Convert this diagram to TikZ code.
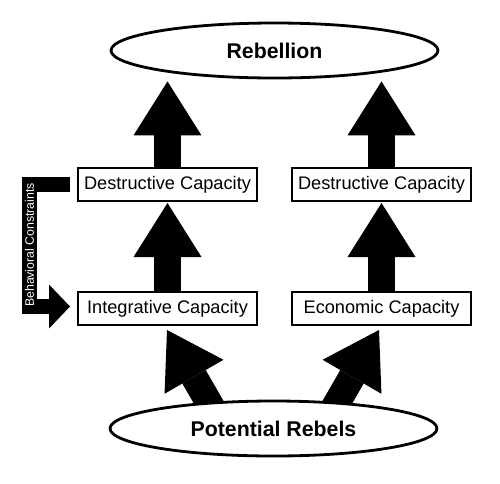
\documentclass[tikz,border=0pt]{standalone}
\usepackage{fontspec}
\setmainfont{Liberation Sans}
\usetikzlibrary{arrows.meta,calc,backgrounds,shapes.geometric}
\tikzset{
  capbox/.style={draw, line width=2pt, fill=white, minimum width=179pt, minimum height=33pt, inner sep=0pt, font=\fontsize{18.2}{22}\selectfont},
  ovalnode/.style={draw, ellipse, line width=2.8pt, fill=white, minimum width=327pt, minimum height=55pt, inner sep=0pt, font=\fontsize{21.3}{26}\selectfont\bfseries},
  bigarrow/.style={line width=27pt, -{Triangle[width=68pt,length=54pt,line width=0pt]}},
  sidearrow/.style={line width=15.5pt, -{Triangle[width=44pt,length=21pt,line width=0pt]}},
}
\begin{document}
\begin{tikzpicture}[x=1pt,y=-1pt]
\useasboundingbox (0,0) rectangle (500,483);
\node[ovalnode] (reb) at (274.5,50.5) {Rebellion};
\node[ovalnode] (pot) at (273.5,428.5) {Potential Rebels};
\node[capbox] (d1) at (167.5,184.5) {Destructive Capacity};
\node[capbox] (d2) at (381.5,184.5) {Destructive Capacity};
\node[capbox] (ic) at (167.5,308.5) {Integrative Capacity};
\node[capbox] (ec) at (381.5,308.5) {Economic Capacity};
\coordinate (r1) at (reb.south -| d1.north);
\coordinate (r2) at (reb.south -| d2.north);
\coordinate (t1) at ($(ic.south)+(-0.5,4)$);
\coordinate (t2) at ($(ec.south)+(-2.5,4)$);
\coordinate (b1) at ($(pot.center)+(-45,8)$);
\coordinate (b2) at ($(pot.center)+(44,8)$);
\coordinate (bcS) at ($(d1.west)+(-7,0)$);
\coordinate (bcE) at ($(ic.west)+(-7,-2)$);
\coordinate (bcX) at (29.5,0);
\begin{scope}[on background layer]
\draw[bigarrow, shorten >=2pt] (d1.north) -- (r1);
\draw[bigarrow, shorten >=2pt] (d2.north) -- (r2);
\draw[bigarrow, shorten >=1pt] (ic.north) -- (d1.south);
\draw[bigarrow, shorten >=1pt] (ec.north) -- (d2.south);
\draw[bigarrow] (b1) -- (t1);
\draw[bigarrow] (b2) -- (t2);
\end{scope}
\draw[sidearrow] (bcS) -- (bcS -| bcX) -- (bcE -| bcX) -- (bcE);
\node[text=white, rotate=90, font=\fontsize{12.3}{14}\selectfont, inner sep=0pt] (bc) at (29.5,245) {Behavioral Constraints};
\end{tikzpicture}
\end{document}
